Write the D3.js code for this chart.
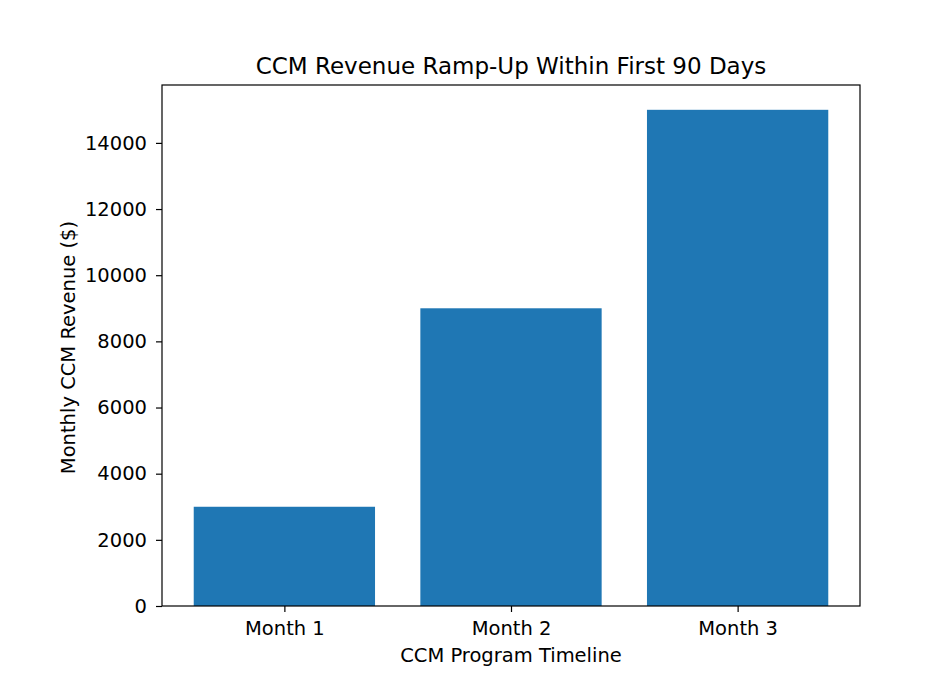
<!DOCTYPE html>
<html><head><meta charset="utf-8">
<script src="https://cdn.jsdelivr.net/npm/d3@7"></script>
<style>body{margin:0;background:#fff}svg{display:block}text{font-family:"DejaVu Sans",sans-serif;fill:#000}</style>
</head><body>
<script>
const categories = ["Month 1", "Month 2", "Month 3"];
const revenue = [3000, 9000, 15000];
const yTicks = [0, 2000, 4000, 6000, 8000, 10000, 12000, 14000];
const title = "CCM Revenue Ramp-Up Within First 90 Days";
const xLabel = "CCM Program Timeline";
const yLabel = "Monthly CCM Revenue ($)";

const W = 948, H = 678;
const m = {left: 162, right: 860, top: 85, bottom: 606};
const svg = d3.select("body").append("svg").attr("width", W).attr("height", H);

const x = d3.scaleLinear().domain([-0.54, 2.54]).range([m.left, m.right]);
const y = d3.scaleLinear().domain([0, 15750]).range([m.bottom, m.top]);
const bw = 0.8;
const fs = "19.5px";

svg.append("g").selectAll("rect").data(revenue).join("rect")
  .attr("x", (d, i) => x(i - bw / 2))
  .attr("width", (d, i) => x(i + bw / 2) - x(i - bw / 2))
  .attr("y", d => y(d))
  .attr("height", d => y(0) - y(d))
  .attr("fill", "#1f77b4");

const xAxis = d3.axisBottom(x).tickValues([0, 1, 2]).tickFormat(i => categories[i]).tickSize(6).tickPadding(9);
const gx = svg.append("g").attr("transform", `translate(0,${m.bottom})`).call(xAxis);
gx.select(".domain").remove();
gx.selectAll("text").style("font-size", fs).attr("font-family", "DejaVu Sans");
gx.selectAll("line").attr("stroke", "#000").attr("stroke-width", 1.2);

const yAxis = d3.axisLeft(y).tickValues(yTicks).tickFormat(d3.format("d")).tickSize(6).tickPadding(9);
const gy = svg.append("g").attr("transform", `translate(${m.left},0)`).call(yAxis);
gy.select(".domain").remove();
gy.selectAll("text").style("font-size", fs).attr("font-family", "DejaVu Sans");
gy.selectAll("line").attr("stroke", "#000").attr("stroke-width", 1.2);

svg.append("rect").attr("x", m.left).attr("y", m.top)
  .attr("width", m.right - m.left).attr("height", m.bottom - m.top)
  .attr("fill", "none").attr("stroke", "#000").attr("stroke-width", 1.2);

svg.append("text").attr("x", (m.left + m.right) / 2).attr("y", 74)
  .attr("text-anchor", "middle").style("font-size", "23px").text(title);
svg.append("text").attr("x", (m.left + m.right) / 2).attr("y", 662)
  .attr("text-anchor", "middle").style("font-size", fs).text(xLabel);
svg.append("text").attr("transform", `translate(75,${(m.top + m.bottom) / 2 + 2}) rotate(-90)`)
  .attr("text-anchor", "middle").style("font-size", fs).text(yLabel);
</script>
</body></html>
